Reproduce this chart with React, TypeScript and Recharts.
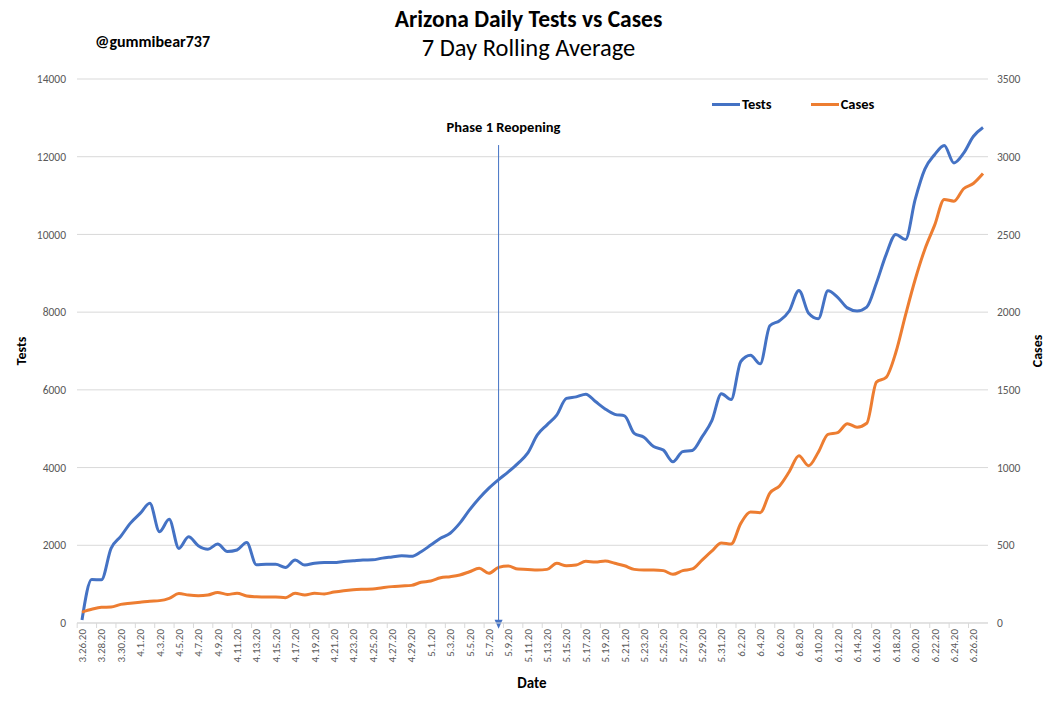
import React from "react";
import { LineChart, Line, XAxis, YAxis, CartesianGrid, ReferenceLine } from "recharts";

const BLUE = "#4472C4";
const ORANGE = "#ED7D31";
const FONT = "Carlito, Calibri, Lato, sans-serif";

const dates = [
  "3.26.20", "3.27.20", "3.28.20", "3.29.20", "3.30.20", "3.31.20",
  "4.1.20", "4.2.20", "4.3.20", "4.4.20", "4.5.20", "4.6.20", "4.7.20", "4.8.20", "4.9.20", "4.10.20",
  "4.11.20", "4.12.20", "4.13.20", "4.14.20", "4.15.20", "4.16.20", "4.17.20", "4.18.20", "4.19.20", "4.20.20",
  "4.21.20", "4.22.20", "4.23.20", "4.24.20", "4.25.20", "4.26.20", "4.27.20", "4.28.20", "4.29.20", "4.30.20",
  "5.1.20", "5.2.20", "5.3.20", "5.4.20", "5.5.20", "5.6.20", "5.7.20", "5.8.20", "5.9.20", "5.10.20",
  "5.11.20", "5.12.20", "5.13.20", "5.14.20", "5.15.20", "5.16.20", "5.17.20", "5.18.20", "5.19.20", "5.20.20",
  "5.21.20", "5.22.20", "5.23.20", "5.24.20", "5.25.20", "5.26.20", "5.27.20", "5.28.20", "5.29.20", "5.30.20",
  "5.31.20", "6.1.20", "6.2.20", "6.3.20", "6.4.20", "6.5.20", "6.6.20", "6.7.20", "6.8.20", "6.9.20",
  "6.10.20", "6.11.20", "6.12.20", "6.13.20", "6.14.20", "6.15.20", "6.16.20", "6.17.20", "6.18.20", "6.19.20",
  "6.20.20", "6.21.20", "6.22.20", "6.23.20", "6.24.20", "6.25.20", "6.26.20", "6.27.20",
];

// 7 day rolling average of daily tests (left axis)
const tests = [
  80, 1120, 1110, 1920, 2230, 2570,
  2820, 3080, 2350, 2670, 1920, 2220, 1990, 1900, 2030, 1840,
  1880, 2070, 1500, 1510, 1510, 1430, 1620, 1490, 1540, 1560,
  1555, 1580, 1600, 1620, 1625, 1670, 1700, 1730, 1715, 1835,
  2005, 2180, 2310, 2570, 2910, 3210, 3470, 3690, 3890, 4110,
  4370, 4840, 5100, 5350, 5780, 5820, 5890, 5700, 5510, 5370,
  5330, 4880, 4780, 4540, 4450, 4150, 4410, 4440, 4790, 5200,
  5900, 5750, 6730, 6890, 6670, 7650, 7780, 8030, 8560, 7970,
  7830, 8550, 8380, 8110, 8030, 8130, 8750, 9480, 10000, 9870,
  10900, 11680, 12050, 12290, 11840, 12090, 12520, 12750,
];

// 7 day rolling average of daily cases (right axis)
const cases = [
  70, 88, 101, 103, 120, 127,
  133, 140, 144, 159, 189, 180, 176, 180, 197, 184,
  191, 174, 169, 167, 167, 163, 191, 180, 191, 187,
  199, 208, 214, 217, 219, 227, 234, 238, 242, 262,
  270, 291, 298, 309, 330, 352, 320, 358, 367, 347,
  345, 341, 345, 384, 368, 373, 397, 392, 399, 384,
  368, 345, 341, 341, 337, 313, 337, 348, 405, 462,
  515, 508, 641, 714, 710, 836, 882, 973, 1076, 1012,
  1099, 1214, 1225, 1282, 1260, 1285, 1550, 1580, 1740, 1981,
  2210, 2405, 2558, 2725, 2714, 2794, 2828, 2892,
];

const testTicks = [0, 2000, 4000, 6000, 8000, 10000, 12000, 14000];
const caseTicks = [0, 500, 1000, 1500, 2000, 2500, 3000, 3500];

const reopenDate = "5.8.20";

const data = dates.map((d, i) => ({ date: d, Tests: tests[i], Cases: cases[i] }));

const XTick = (props: any) => {
  const { x, y, payload } = props;
  return (
    <g transform={`translate(${x},${y})`}>
      <line x1={-4.8} x2={-4.8} y1={0} y2={5} stroke="#D9D9D9" />
      <text
        transform="rotate(-90)"
        x={-6}
        y={0}
        dy={4}
        textAnchor="end"
        fill="#595959"
        fontSize={11}
        fontFamily={FONT}
      >
        {payload.value}
      </text>
    </g>
  );
};

const ArrowShape = (props: any) => {
  const { x1, y1, x2, y2 } = props;
  return (
    <g>
      <line x1={x1} y1={y1} x2={x2} y2={y2 - 7} stroke={BLUE} strokeWidth={1} />
      <polygon points={`${x2 - 4},${y2 - 9} ${x2 + 4},${y2 - 9} ${x2},${y2}`} fill={BLUE} />
    </g>
  );
};

const abs = (s: React.CSSProperties): React.CSSProperties => ({
  position: "absolute",
  fontFamily: FONT,
  whiteSpace: "nowrap",
  lineHeight: 1,
  ...s,
});

const App: React.FC = () => {
  return (
    <div style={{ position: "relative", width: 1057, height: 705, background: "#fff" }}>
      <style>{"body{margin:0}"}</style>
      <LineChart
        width={1057}
        height={705}
        data={data}
        margin={{ top: 79, right: 19, left: 17, bottom: 22 }}
      >
        <CartesianGrid yAxisId="left" vertical={false} stroke="#D9D9D9" />
        <XAxis
          dataKey="date"
          interval={1}
          height={60}
          padding={{ left: 5, right: 5 }}
          tickLine={false}
          tickSize={0}
          tickMargin={0}
          axisLine={{ stroke: "#D9D9D9" }}
          tick={<XTick />}
        />
        <YAxis
          yAxisId="left"
          width={60}
          domain={[0, 14000]}
          ticks={testTicks}
          axisLine={false}
          tickLine={false}
          tickSize={0}
          tickMargin={11}
          tick={{ fill: "#595959", fontSize: 11.5, fontFamily: FONT }}
        />
        <YAxis
          yAxisId="right"
          orientation="right"
          width={50}
          domain={[0, 3500]}
          ticks={caseTicks}
          axisLine={false}
          tickLine={false}
          tickSize={0}
          tickMargin={9}
          tick={{ fill: "#595959", fontSize: 11.5, fontFamily: FONT }}
        />
        <Line
          yAxisId="left"
          dataKey="Tests"
          type="monotone"
          stroke={BLUE}
          strokeWidth={3}
          dot={false}
          activeDot={false}
          isAnimationActive={false}
        />
        <Line
          yAxisId="right"
          dataKey="Cases"
          type="monotone"
          stroke={ORANGE}
          strokeWidth={3}
          dot={false}
          activeDot={false}
          isAnimationActive={false}
        />
        <ReferenceLine
          yAxisId="left"
          ifOverflow="visible"
          segment={[
            { x: reopenDate, y: 12300 },
            { x: reopenDate, y: -150 },
          ]}
          shape={<ArrowShape />}
        />
      </LineChart>

      <div style={abs({ left: 0, width: 1057, top: 8, textAlign: "center", fontSize: 23.5, fontWeight: 700 })}>
        Arizona Daily Tests vs Cases
      </div>
      <div style={abs({ left: 0, width: 1057, top: 36, textAlign: "center", fontSize: 24.5 })}>
        7 Day Rolling Average
      </div>
      <div style={abs({ left: 95, top: 34, fontSize: 16, fontWeight: 700 })}>@gummibear737</div>
      <div style={abs({ left: 0, width: 1007, top: 120, textAlign: "center", fontSize: 14.5, fontWeight: 700 })}>
        Phase 1 Reopening
      </div>

      <div style={abs({ left: 712, top: 97, display: "flex", alignItems: "center", fontSize: 14.5, fontWeight: 700 })}>
        <span style={{ display: "inline-block", width: 28, height: 3, background: BLUE, marginRight: 2 }} />
        <span>Tests</span>
        <span style={{ display: "inline-block", width: 28, height: 3, background: ORANGE, marginLeft: 39, marginRight: 2 }} />
        <span>Cases</span>
      </div>

      <div style={abs({ left: 22, top: 351, fontSize: 14, fontWeight: 700, transform: "translate(-50%,-50%) rotate(-90deg)" })}>
        Tests
      </div>
      <div style={abs({ left: 1038, top: 351, fontSize: 14, fontWeight: 700, transform: "translate(-50%,-50%) rotate(-90deg)" })}>
        Cases
      </div>
      <div style={abs({ left: 532, top: 683, fontSize: 15, fontWeight: 700, transform: "translate(-50%,-50%)" })}>
        Date
      </div>
    </div>
  );
};

export default App;
